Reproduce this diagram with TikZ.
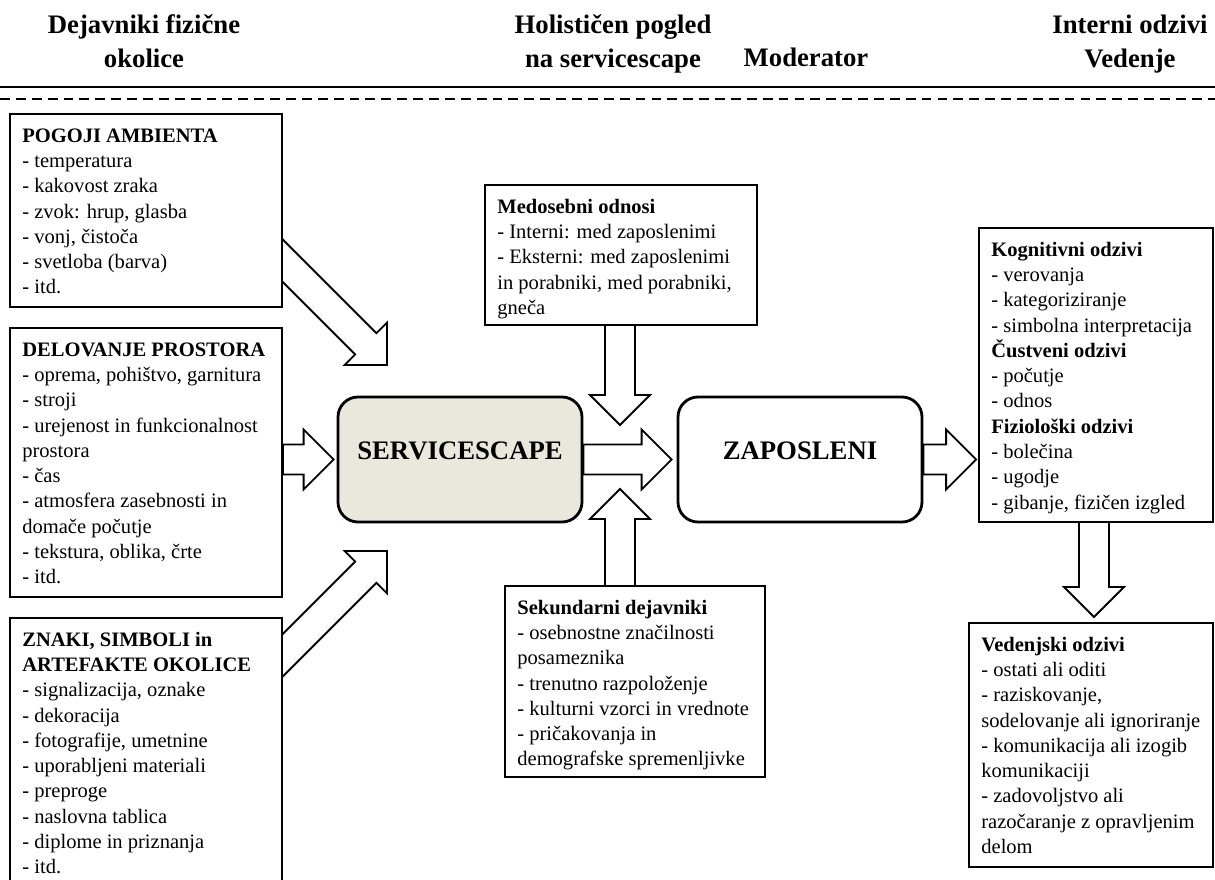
\documentclass[tikz,border=0pt]{standalone}
\usepackage{fontspec}
\setmainfont{Liberation Serif}
\usetikzlibrary{calc,fit,backgrounds}
\newcommand\bodyfont{\fontsize{14.6pt}{18pt}\selectfont}
\newcommand\headfont{\fontsize{19pt}{24.2pt}\selectfont\bfseries}
\definecolor{scbeige}{RGB}{234,231,221}
\newcommand\bashaft{0.375cm}
\newcommand\bahead{0.75cm}
\newcommand\balen{0.75cm}
\newcommand\blockarrow[2]{%
  \path ($(#2)!\balen!(#1)$) coordinate (bah);
  \draw[blockarr] ($(#1)!\bashaft!90:(#2)$) -- ($(bah)!\bashaft!90:(#2)$) -- ($(bah)!\bahead!90:(#2)$) -- (#2) -- ($(bah)!\bahead!-90:(#2)$) -- ($(bah)!\bashaft!-90:(#2)$) -- ($(#1)!\bashaft!-90:(#2)$) -- cycle;}
\tikzset{
  box/.style={draw, line width=1.3pt, fill=white, inner sep=0pt, rectangle},
  rbox/.style={draw, line width=2pt, rounded corners=0.5cm, inner sep=0pt, font=\headfont},
  txt/.style={anchor=north west, inner sep=0pt, align=left, font=\bodyfont},
  head/.style={anchor=north, inner sep=0pt, align=center, font=\headfont},
  blockarr/.style={draw, fill=white, line width=1.3pt, line join=miter},
}
\begin{document}
\begin{tikzpicture}[x=0.025cm, y=-0.025cm]
\useasboundingbox (0,0) rectangle (1215,880);
\clip (0,0) rectangle (1215,880);
% header
\node[head] (h1) at (144,9.2) {\strut Dejavniki fizične\\okolice};
\node[head] (h2) at (613,9.2) {\strut Holističen pogled\\na servicescape};
\node[head, anchor=base] (h3) at (806,67) {Moderator};
\node[head] (h4) at (1130,9.2) {\strut Interni odzivi\\Vedenje};
\draw[line width=1.5pt] (0,87) -- (1215,87);
\draw[line width=1.1pt, dash pattern=on 7pt off 4.3pt] (0,99) -- (1215,99);
% boxes
\node[box, fit={(10,114) (282,307)}] (pogoji) {};
\node[txt] (pogojit) at ($(pogoji.north west)+(13,11)$) {\strut\textbf{POGOJI AMBIENTA}\\- temperatura\\- kakovost zraka\\- zvok: hrup, glasba\\- vonj, čistoča\\- svetloba (barva)\\- itd.};
\node[box, fit={(10,328) (282,597)}] (delovanje) {};
\node[txt] (delovanjet) at ($(delovanje.north west)+(13,11)$) {\strut\textbf{DELOVANJE PROSTORA}\\- oprema, pohištvo, garnitura\\- stroji\\- urejenost in funkcionalnost\\prostora\\- čas\\- atmosfera zasebnosti in\\domače počutje\\- tekstura, oblika, črte\\- itd.};
\node[box, fit={(10,618) (282,900)}] (znaki) {};
\node[txt] (znakit) at ($(znaki.north west)+(13,11)$) {\strut\textbf{ZNAKI, SIMBOLI in}\\\textbf{ARTEFAKTE OKOLICE}\\- signalizacija, oznake\\- dekoracija\\- fotografije, umetnine\\- uporabljeni materiali\\- preproge\\- naslovna tablica\\- diplome in priznanja\\- itd.};
\node[box, fit={(485,185) (757,325)}] (medosebni) {};
\node[txt] (medosebnit) at ($(medosebni.north west)+(13,11)$) {\strut\textbf{Medosebni odnosi}\\- Interni: med zaposlenimi\\- Eksterni: med zaposlenimi\\in porabniki, med porabniki,\\gneča};
\node[box, fit={(505,586) (765,777)}] (sekundarni) {};
\node[txt] (sekundarnit) at ($(sekundarni.north west)+(13,11)$) {\strut\textbf{Sekundarni dejavniki}\\- osebnostne značilnosti\\posameznika\\- trenutno razpoloženje\\- kulturni vzorci in vrednote\\- pričakovanja in\\demografske spremenljivke};
\node[rbox, fill=scbeige, fit={(338,397) (582,522)}] (servicescape) {SERVICESCAPE};
\node[rbox, fill=white, fit={(678,397) (922,522)}] (zaposleni) {ZAPOSLENI};
\node[box, fit={(979,228) (1213,522)}] (kognitivni) {};
\node[txt] (kognitivnit) at ($(kognitivni.north west)+(13,11)$) {\strut\textbf{Kognitivni odzivi}\\- verovanja\\- kategoriziranje\\- simbolna interpretacija\\\textbf{Čustveni odzivi}\\- počutje\\- odnos\\\textbf{Fiziološki odzivi}\\- bolečina\\- ugodje\\- gibanje, fizičen izgled};
\node[box, fit={(969,623) (1213,867)}] (vedenjski) {};
\node[txt] (vedenjskit) at ($(vedenjski.north west)+(13,11)$) {\strut\textbf{Vedenjski odzivi}\\- ostati ali oditi\\- raziskovanje,\\sodelovanje ali ignoriranje\\- komunikacija ali izogib\\komunikaciji\\- zadovoljstvo ali\\razočaranje z opravljenim\\delom};
% arrow end points
\coordinate (a1s) at (262,240);
\coordinate (a1e) at (387,365);
\coordinate (a2s) at (delovanje.east |- servicescape.west);
\coordinate (a2e) at ($(servicescape.west)+(-3,0)$);
\coordinate (a3s) at (262,676);
\coordinate (a3e) at (387,551);
\coordinate (a4s) at (620,325);
\coordinate (a4e) at (620,425);
\coordinate (a5s) at (servicescape.east);
\coordinate (a5e) at ($(zaposleni.west)+(-5,0)$);
\coordinate (a6s) at (620,586);
\coordinate (a6e) at (620,489);
\coordinate (a7s) at (zaposleni.east);
\coordinate (a7e) at ($(kognitivni.west |- zaposleni.east)+(-2,0)$);
\coordinate (a8s) at (1094,522);
\coordinate (a8e) at (1094,617);
\begin{pgfonlayer}{background}
\blockarrow{a1s}{a1e}
\blockarrow{a2s}{a2e}
\blockarrow{a3s}{a3e}
\blockarrow{a4s}{a4e}
\blockarrow{a5s}{a5e}
\blockarrow{a6s}{a6e}
\blockarrow{a7s}{a7e}
\blockarrow{a8s}{a8e}
\end{pgfonlayer}
\end{tikzpicture}
\end{document}
